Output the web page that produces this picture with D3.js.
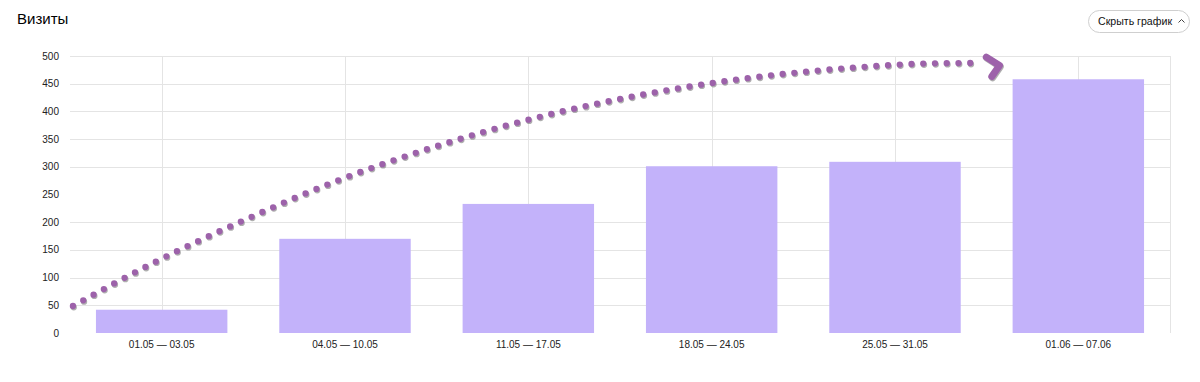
<!DOCTYPE html>
<html><head><meta charset="utf-8">
<script src="https://cdn.jsdelivr.net/npm/d3@7"></script>
<style>
html,body{margin:0;padding:0;background:#fff;}
svg{display:block;font-family:Arial,"Liberation Sans",sans-serif;}
</style></head>
<body><svg id="c" width="1200" height="382"></svg>
<script>
const title = "Визиты";
const buttonLabel = "Скрыть график";
const categories = ["01.05 — 03.05","04.05 — 10.05","11.05 — 17.05","18.05 — 24.05","25.05 — 31.05","01.06 — 07.06"];
const visits = [42, 170, 233, 301, 309, 458];
const yTicks = [0, 50, 100, 150, 200, 250, 300, 350, 400, 450, 500];
const gridTicks = [50, 100, 150, 200, 300, 350, 400, 450, 500];
// hand-drawn dotted arrow annotation: position in band units (0..6), value
const curveX = [0.016, 0.475, 0.938, 1.466, 2.002, 2.547, 3.102, 3.660, 4.233, 4.745, 4.936];
const curveV = [48.7, 130, 202, 276, 337.5, 389, 429, 458.5, 478, 487, 487.4];
const headX = [4.998, 5.07, 5.028];
const headV = [498, 483, 463];

const svg = d3.select("#c");
const W = 1200, H = 382;
const m = {left: 70, right: 30, top: 56, bottom: 49};
const x = d3.scaleBand().domain(categories).range([m.left, W - m.right]).paddingInner(0.283).paddingOuter(0.1415);
const xu = d3.scaleLinear().domain([0, categories.length]).range([m.left, W - m.right]);
const y = d3.scaleLinear().domain([0, 500]).range([H - m.bottom, m.top]);

// title
svg.append("text").attr("x", 17).attr("y", 24).attr("font-size", 15).attr("fill", "#000").text(title);

// button
const bg = svg.append("g");
bg.append("rect").attr("x", 1088.5).attr("y", 10.5).attr("width", 101).attr("height", 22).attr("rx", 11)
  .attr("fill", "#fff").attr("stroke", "#cfcfcf");
bg.append("text").attr("x", 1098).attr("y", 25).attr("font-size", 10.6).attr("fill", "#111").text(buttonLabel);
bg.append("path").attr("d", "M1178.5,22.5 L1181.5,19.5 L1184.5,22.5").attr("fill", "none").attr("stroke", "#444").attr("stroke-width", 1);

// horizontal grid
svg.append("g").selectAll("line").data(gridTicks).join("line")
  .attr("x1", m.left).attr("x2", W - m.right)
  .attr("y1", d => Math.round(y(d)) + 0.5).attr("y2", d => Math.round(y(d)) + 0.5)
  .attr("stroke", "#e4e4e4");
// vertical grid at band centers + right border
svg.append("g").selectAll("line").data(categories).join("line")
  .attr("x1", d => Math.round(x(d) + x.bandwidth() / 2) + 0.5).attr("x2", d => Math.round(x(d) + x.bandwidth() / 2) + 0.5)
  .attr("y1", y(500)).attr("y2", y(0))
  .attr("stroke", "#e4e4e4");
svg.append("line").attr("x1", W - m.right + 0.5).attr("x2", W - m.right + 0.5).attr("y1", y(500)).attr("y2", y(0)).attr("stroke", "#e4e4e4");

// y labels
svg.append("g").selectAll("text").data(yTicks).join("text")
  .attr("x", 59).attr("y", d => y(d) + 3.5).attr("text-anchor", "end")
  .attr("font-size", 10).attr("fill", "#222").text(d => d);

// bars
svg.append("g").selectAll("rect").data(visits).join("rect")
  .attr("x", (d, i) => x(categories[i])).attr("width", x.bandwidth())
  .attr("y", d => y(d)).attr("height", d => y(0) - y(d))
  .attr("fill", "#c3b2fa");

// x labels
svg.append("g").selectAll("text").data(categories).join("text")
  .attr("x", d => x(d) + x.bandwidth() / 2).attr("y", 348).attr("text-anchor", "middle")
  .attr("font-size", 10).attr("fill", "#222").text(d => d);

// dotted arrow
const pts = curveX.map((d, i) => [xu(d), y(curveV[i])]);
const hpts = headX.map((d, i) => [xu(d), y(headV[i])]);
const line = d3.line().curve(d3.curveMonotoneX);
const straight = d3.line();
const drawArrow = (g, color, dx, dy) => {
  g.append("path").attr("d", line(pts)).attr("transform", `translate(${dx},${dy})`)
    .attr("fill", "none").attr("stroke", color).attr("stroke-width", 6.3)
    .attr("stroke-linecap", "round").attr("stroke-dasharray", "0 11.75");
  g.append("path").attr("d", straight(hpts)).attr("transform", `translate(${dx},${dy})`)
    .attr("fill", "none").attr("stroke", color).attr("stroke-width", 7)
    .attr("stroke-linecap", "round").attr("stroke-linejoin", "round");
};
const ag = svg.append("g");
drawArrow(ag, "rgba(110,110,110,0.55)", 0.8, 1.3);
drawArrow(ag, "#9d62aa", 0, 0);
</script></body></html>
